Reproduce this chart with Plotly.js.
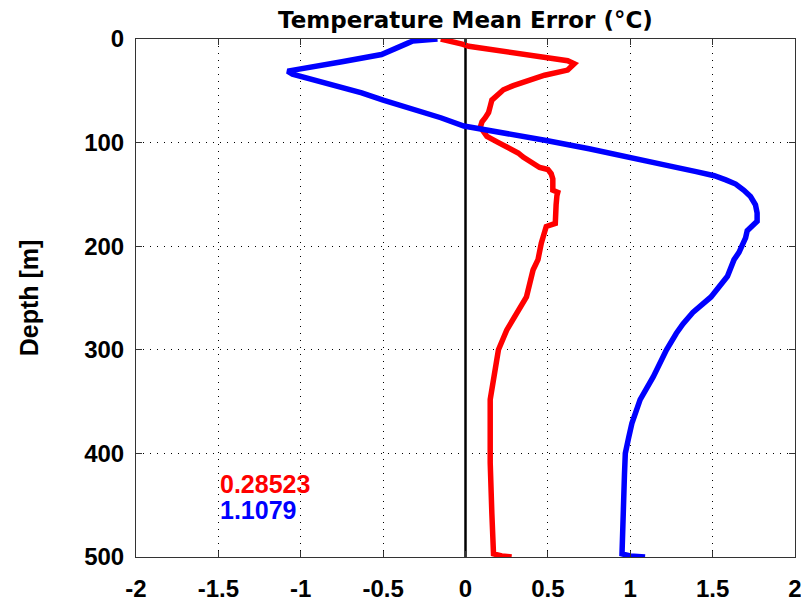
<!DOCTYPE html>
<html>
<head>
<meta charset="utf-8">
<script src="https://cdn.plot.ly/plotly-3.0.1.min.js"></script>
<style>html,body{margin:0;padding:0;background:#fff;}#chart{width:801px;height:602px;}</style>
</head>
<body>
<div id="chart"></div>
<script>
// Mean temperature error profiles (°C) vs depth (m)
const blueDepth = [0, 1, 2, 4, 7, 10, 15, 22, 28, 31, 34, 37, 45, 52, 59, 68, 76, 84, 91, 98, 106, 115, 123, 128, 132, 136, 140, 146, 152, 160, 168, 176, 180, 185, 192, 199, 206, 213, 229, 249, 264, 275, 284, 300, 313, 326, 348, 360, 371, 385, 400, 420, 442, 474, 497, 499, 500];
const blueError = [-0.17, -0.25, -0.32, -0.35, -0.39, -0.43, -0.51, -0.75, -0.98, -1.08, -1.05, -0.98, -0.78, -0.63, -0.50, -0.30, -0.15, -0.01, 0.25, 0.49, 0.75, 1.00, 1.25, 1.40, 1.51, 1.58, 1.64, 1.69, 1.73, 1.76, 1.77, 1.77, 1.74, 1.71, 1.70, 1.68, 1.66, 1.63, 1.59, 1.49, 1.38, 1.32, 1.28, 1.22, 1.18, 1.14, 1.06, 1.03, 1.01, 0.99, 0.97, 0.965, 0.96, 0.95, 0.95, 1.00, 1.09];

const redDepth = [0, 2, 5, 7, 12, 17, 21, 24, 27, 30, 35, 40, 45, 49, 55, 59, 65, 71, 76, 80, 85, 90, 94, 100, 104, 110, 114, 120, 124, 126, 130, 135, 146, 148, 151, 160, 168, 178, 181, 190, 197, 213, 223, 249, 265, 281, 300, 313, 326, 348, 394, 409, 458, 497, 499, 500];
const redError = [-0.15, -0.08, -0.02, 0.02, 0.23, 0.49, 0.62, 0.66, 0.64, 0.62, 0.48, 0.37, 0.29, 0.23, 0.18, 0.16, 0.15, 0.14, 0.12, 0.10, 0.09, 0.11, 0.13, 0.20, 0.25, 0.32, 0.35, 0.41, 0.45, 0.50, 0.52, 0.53, 0.53, 0.56, 0.555, 0.55, 0.545, 0.545, 0.49, 0.47, 0.46, 0.44, 0.41, 0.37, 0.31, 0.25, 0.20, 0.185, 0.17, 0.15, 0.15, 0.15, 0.16, 0.17, 0.22, 0.28];

const zeroLineX = [0, 0];
const zeroLineDepth = [0, 500];

const xTickVals = [-2, -1.5, -1, -0.5, 0, 0.5, 1, 1.5, 2];
const xTickText = ["-2", "-1.5", "-1", "-0.5", "0", "0.5", "1", "1.5", "2"];
const yTickVals = [0, 100, 200, 300, 400, 500];
const yTickText = ["0", "100", "200", "300", "400", "500"];

const redLabel = "0.28523";
const blueLabel = "1.1079";
const labelX = -1.5;
const redLabelDepth = 430;
const blueLabelDepth = 455;

const traces = [
  {x: zeroLineX, y: zeroLineDepth, mode: 'lines', line: {color: '#000000', width: 2.5}, hoverinfo: 'skip'},
  {x: redError, y: redDepth, mode: 'lines', line: {color: '#ff0000', width: 5.5}},
  {x: blueError, y: blueDepth, mode: 'lines', line: {color: '#0000ff', width: 5.5}}
];

const tickFont = {family: 'Liberation Sans, Arial, sans-serif', size: 24, color: '#000', weight: 'bold'};

const layout = {
  width: 801, height: 602,
  margin: {l: 136, r: 6, t: 39, b: 45},
  paper_bgcolor: '#ffffff', plot_bgcolor: '#ffffff',
  showlegend: false,
  title: {
    text: '<b>Temperature Mean Error (°C)</b>',
    font: {family: 'DejaVu Sans, sans-serif', size: 23, color: '#000'},
    x: 0.5, xref: 'paper', xanchor: 'center',
    y: 1 - 20 / 602, yref: 'container', yanchor: 'middle'
  },
  xaxis: {
    range: [-2, 2], tickvals: xTickVals, ticktext: xTickText,
    tickfont: tickFont, ticks: 'inside', ticklen: 6, tickcolor: '#333',
    showline: true, linecolor: '#333', linewidth: 1, mirror: 'ticks',
    showgrid: true, gridcolor: '#000', griddash: '1px,6px', gridwidth: 1,
    zeroline: false, ticklabelstandoff: 10, ticklabeloverflow: 'allow',
    automargin: false
  },
  yaxis: {
    range: [500, 0], tickvals: yTickVals, ticktext: yTickText,
    tickfont: tickFont, ticks: 'inside', ticklen: 6, tickcolor: '#333',
    showline: true, linecolor: '#333', linewidth: 1, mirror: 'ticks',
    showgrid: true, gridcolor: '#000', griddash: '1px,6px', gridwidth: 1,
    zeroline: false, ticklabelstandoff: 6, ticklabeloverflow: 'allow',
    title: {text: '<b>Depth [m]</b>', font: {family: 'Liberation Sans, Arial, sans-serif', size: 25, color: '#000'}, standoff: 38},
    automargin: false
  },
  annotations: [
    {x: labelX, y: redLabelDepth, xref: 'x', yref: 'y', text: '<b>' + redLabel + '</b>', showarrow: false, xanchor: 'left', yanchor: 'middle', font: {family: 'Liberation Sans, Arial, sans-serif', size: 25, color: '#ff0000'}},
    {x: labelX, y: blueLabelDepth, xref: 'x', yref: 'y', text: '<b>' + blueLabel + '</b>', showarrow: false, xanchor: 'left', yanchor: 'middle', font: {family: 'Liberation Sans, Arial, sans-serif', size: 25, color: '#0000ff'}}
  ]
};

Plotly.newPlot('chart', traces, layout, {displayModeBar: false, staticPlot: true});
</script>
</body>
</html>
